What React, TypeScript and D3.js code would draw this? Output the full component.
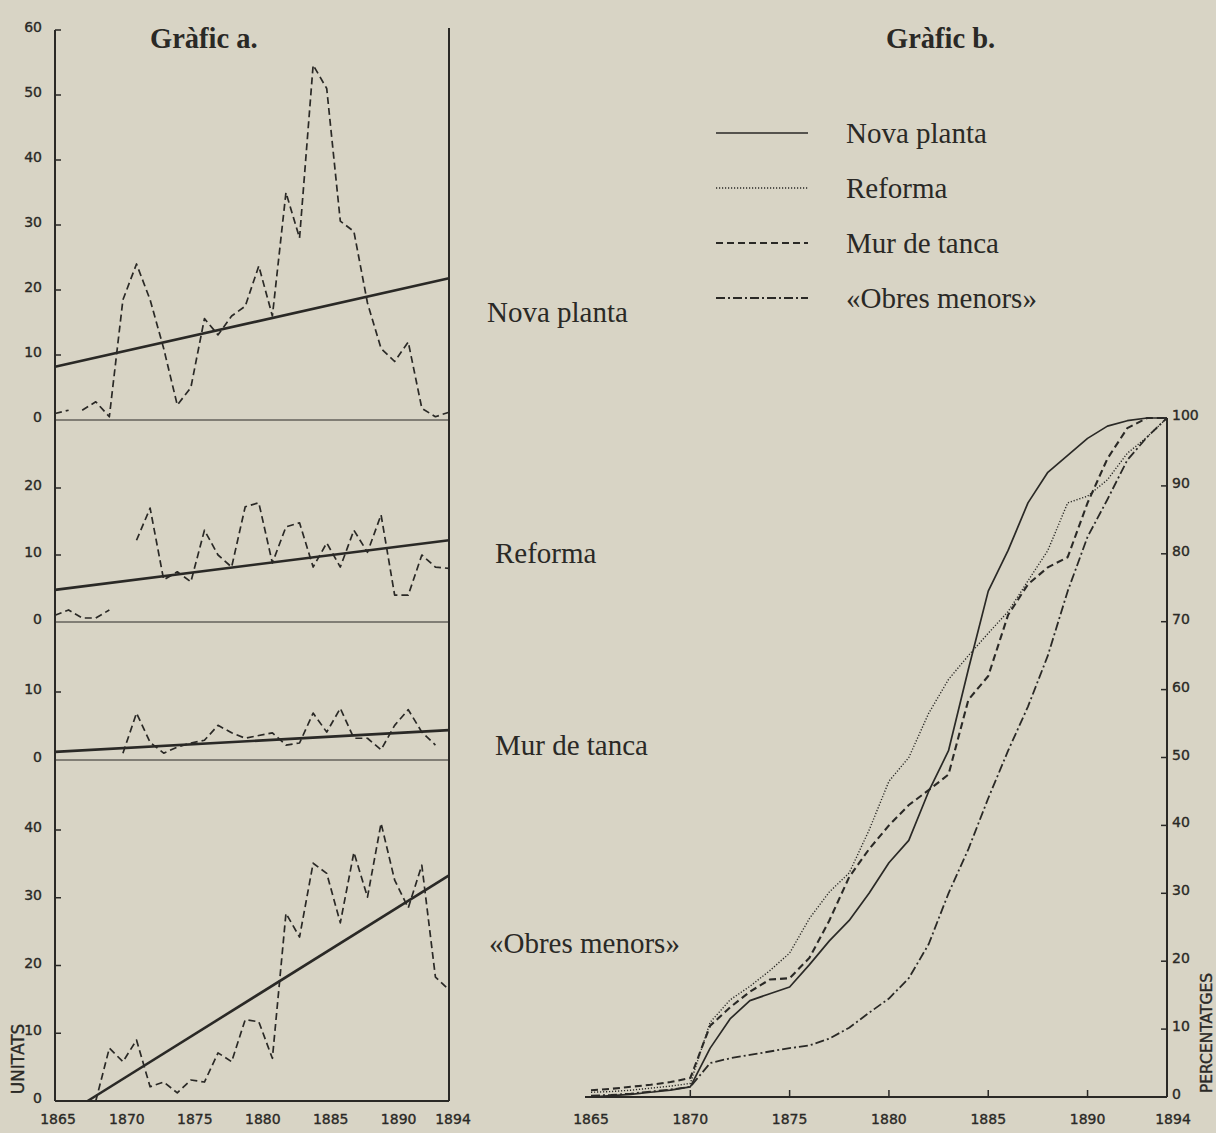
import React, { useEffect, useRef } from 'react';
import * as d3 from 'd3';

const W = 1216;
const H = 1133;

const years = [
  1865, 1866, 1867, 1868, 1869, 1870, 1871, 1872, 1873, 1874,
  1875, 1876, 1877, 1878, 1879, 1880, 1881, 1882, 1883, 1884,
  1885, 1886, 1887, 1888, 1889, 1890, 1891, 1892, 1893, 1894,
];

// Gràfic a: unitats per any (null = no dibuixat)
const novaPlanta = [
  1, 1.5, 1.5, 2.8, 0.5, 18.5, 24, 18.5, 11, 2.3,
  5, 15.6, 13.1, 16, 17.5, 23.7, 16, 35, 28, 54.6,
  51, 30.6, 29, 18, 11, 9, 12, 1.8, 0.5, 1.2,
];
const reforma = [
  1, 1.8, 0.6, 0.6, 1.8, null, 12.2, 17, 6.3, 7.5,
  6, 13.7, 10, 8.2, 17.2, 17.8, 8.8, 14.2, 14.8, 8.2,
  11.8, 8.2, 13.7, 10.4, 16, 4, 4, 10, 8.2, 8,
];
const murTanca = [
  null, null, null, null, null, 1, 6.9, 2.6, 1, 1.9,
  2.5, 2.9, 5.1, 4, 3.2, 3.6, 4, 2.2, 2.5, 6.9,
  4.1, 7.6, 3.2, 3.2, 1.5, 5.1, 7.4, 4.1, 2.2, null,
];
const obresMenors = [
  null, null, null, 0, 7.8, 5.8, 9, 2.1, 2.8, 1.2,
  3.1, 2.8, 7.1, 5.8, 12, 11.7, 6.3, 27.7, 24.2, 35.1,
  33.6, 26.3, 36.7, 30.1, 41, 32.6, 28.5, 34.8, 18.3, 16.4,
];

// years after which the dashed line is interrupted
const novaPlantaBreaks = [1866];

// trend lines: [year, value] at each end
const trendNovaPlanta = [[1865, 8.2], [1894, 21.8]];
const trendReforma = [[1865, 4.8], [1894, 12.2]];
const trendMurTanca = [[1865, 1.2], [1894, 4.4]];
const trendObresMenors = [[1867.4, 0], [1894, 33.3]];

const ticksNova = [0, 10, 20, 30, 40, 50, 60];
const ticksReforma = [0, 10, 20];
const ticksMur = [0, 10];
const ticksObres = [0, 10, 20, 30, 40];
const yearLabelsA = [1865, 1870, 1875, 1880, 1885, 1890, 1894];

// Gràfic b: percentatges acumulats
const pctNovaPlanta = [
  0, 0.2, 0.4, 0.7, 1, 1.5, 7.2, 11.5, 14.2, 15.2,
  16.2, 19.5, 23, 26, 30, 34.5, 37.8, 45, 51, 63,
  74.5, 80.5, 87.5, 92, 94.5, 97, 98.8, 99.6, 100, 100,
];
const pctReforma = [
  0.7, 0.8, 1, 1.3, 1.6, 2, 11, 14.3, 16.3, 18.6,
  21.2, 26.3, 30.2, 33, 39.3, 46.5, 50, 56.5, 61.5, 65,
  68.3, 71.5, 76, 80.5, 87.5, 88.5, 90.9, 94.8, 97.2, 100,
];
const pctMurTanca = [
  1, 1.2, 1.5, 1.8, 2.2, 2.8, 10.5, 13.2, 15.5, 17.3,
  17.5, 20.5, 26, 32.4, 36.5, 40, 43, 45.2, 47.5, 58.5,
  62, 71, 75.5, 78, 79.5, 87.5, 94, 98.5, 100, 100,
];
const pctObresMenors = [
  0.2, 0.3, 0.5, 0.8, 1.1, 1.5, 5, 5.7, 6.2, 6.7,
  7.2, 7.6, 8.6, 10.2, 12.4, 14.5, 17.5, 22.5, 30, 36.5,
  44, 51, 57.5, 65, 74.5, 82.5, 88, 93.8, 97.2, 100,
];

const pctTicks = [0, 10, 20, 30, 40, 50, 60, 70, 80, 90, 100];
const yearTicksB = [1870, 1875, 1880, 1885, 1890];
const yearLabelsB = [1865, 1870, 1875, 1880, 1885, 1890, 1894];

const legendLabels = ['Nova planta', 'Reforma', 'Mur de tanca', '«Obres menors»'];

const INK = '#2a2926';
const PAPER = '#d8d4c5';
const SERIF = '"Liberation Serif", "Times New Roman", serif';
const SANS = '"DejaVu Sans", sans-serif';

type Pt = { yr: number; v: number };

export default function App() {
  const svgRef = useRef<SVGSVGElement>(null);

  useEffect(() => {
    if (!svgRef.current) return;
    const svg = d3.select(svgRef.current);
    svg.selectAll('*').remove();

    svg.append('rect').attr('width', W).attr('height', H).attr('fill', PAPER);

    // hand-lettered axis text: a thin stroke makes it a bit heavier
    const sansText = (sel: d3.Selection<SVGTextElement, unknown, null, undefined>, size = 14) =>
      sel
        .attr('font-family', SANS).attr('font-size', size)
        .attr('fill', INK).attr('stroke', INK).attr('stroke-width', 0.35);

    // ---------- Gràfic a ----------
    const xa = d3.scaleLinear().domain([1865, 1894]).range([55, 449]);
    const ga = svg.append('g');

    const panels = [
      {
        label: 'Nova planta', values: novaPlanta, breaks: novaPlantaBreaks, trend: trendNovaPlanta,
        ticks: ticksNova, y: d3.scaleLinear().domain([0, 60]).range([420, 30]), lx: 487, ly: 322,
      },
      {
        label: 'Reforma', values: reforma, breaks: [], trend: trendReforma,
        ticks: ticksReforma, y: d3.scaleLinear().domain([0, 20]).range([622, 488]), lx: 495, ly: 563,
      },
      {
        label: 'Mur de tanca', values: murTanca, breaks: [], trend: trendMurTanca,
        ticks: ticksMur, y: d3.scaleLinear().domain([0, 10]).range([760, 692]), lx: 495, ly: 755,
      },
      {
        label: '«Obres menors»', values: obresMenors, breaks: [], trend: trendObresMenors,
        ticks: ticksObres, y: d3.scaleLinear().domain([0, 40]).range([1101, 830]), lx: 489, ly: 953,
      },
    ];

    panels.forEach((p, pi) => {
      // zero line (the last one is the x axis)
      ga.append('line')
        .attr('x1', xa(1865)).attr('x2', xa(1894))
        .attr('y1', p.y(0)).attr('y2', p.y(0))
        .attr('stroke', INK)
        .attr('stroke-width', pi === panels.length - 1 ? 2.2 : 1);

      // y ticks and labels
      p.ticks.forEach((t) => {
        if (t > 0) {
          ga.append('line')
            .attr('x1', xa(1865)).attr('x2', xa(1865) + 6)
            .attr('y1', p.y(t)).attr('y2', p.y(t))
            .attr('stroke', INK).attr('stroke-width', 1.5);
        }
        sansText(
          ga.append('text')
            .attr('x', 42).attr('y', p.y(t) + 2)
            .attr('text-anchor', 'end')
        ).text(t);
      });

      // dashed yearly series, split at gaps
      const segs: Pt[][] = [];
      let cur: Pt[] = [];
      years.forEach((yr, i) => {
        const v = p.values[i];
        if (v == null) {
          if (cur.length) segs.push(cur);
          cur = [];
          return;
        }
        cur.push({ yr, v });
        if (p.breaks.includes(yr)) {
          segs.push(cur);
          cur = [];
        }
      });
      if (cur.length) segs.push(cur);

      const line = d3.line<Pt>().x((d) => xa(d.yr)).y((d) => p.y(d.v));
      segs.filter((s) => s.length > 1).forEach((s) => {
        ga.append('path')
          .attr('d', line(s))
          .attr('fill', 'none')
          .attr('stroke', INK)
          .attr('stroke-width', 1.7)
          .attr('stroke-dasharray', '7,4')
          .attr('stroke-linejoin', 'round');
      });

      // trend line
      ga.append('line')
        .attr('x1', xa(p.trend[0][0])).attr('y1', p.y(p.trend[0][1]))
        .attr('x2', xa(p.trend[1][0])).attr('y2', p.y(p.trend[1][1]))
        .attr('stroke', INK).attr('stroke-width', 2.6);

      // series label
      ga.append('text')
        .attr('x', p.lx).attr('y', p.ly)
        .attr('font-family', SERIF).attr('font-size', 29)
        .attr('fill', INK)
        .text(p.label);
    });

    // frame of gràfic a
    ga.append('line')
      .attr('x1', xa(1865)).attr('x2', xa(1865))
      .attr('y1', panels[0].y(60)).attr('y2', panels[3].y(0))
      .attr('stroke', INK).attr('stroke-width', 2);
    ga.append('line')
      .attr('x1', xa(1894)).attr('x2', xa(1894))
      .attr('y1', 28).attr('y2', panels[3].y(0))
      .attr('stroke', INK).attr('stroke-width', 2);

    yearLabelsA.forEach((yr) => {
      sansText(
        ga.append('text')
          .attr('x', xa(yr) + (yr === 1865 ? 3 : 4)).attr('y', 1124)
          .attr('text-anchor', 'middle')
      ).text(yr);
    });

    sansText(
      ga.append('text')
        .attr('transform', 'translate(24,1059) rotate(-90)')
        .attr('text-anchor', 'middle'),
      17
    ).text('UNITATS');

    ga.append('text')
      .attr('x', 150).attr('y', 48)
      .attr('font-family', SERIF).attr('font-size', 28.5).attr('font-weight', 700)
      .attr('fill', INK)
      .text('Gràfic a.');

    // ---------- Gràfic b ----------
    const xb = d3.scaleLinear().domain([1865, 1894]).range([591, 1167]);
    const yb = d3.scaleLinear().domain([0, 100]).range([1097, 418]);
    const gb = svg.append('g');

    const styles = [
      { values: pctNovaPlanta, dash: null as string | null, width: 1.7 },
      { values: pctReforma, dash: '1.2,1.8', width: 1.4 },
      { values: pctMurTanca, dash: '7,4', width: 2.1 },
      { values: pctObresMenors, dash: '9,3,2,3', width: 1.8 },
    ];

    // axes
    gb.append('line')
      .attr('x1', 585).attr('x2', xb(1894))
      .attr('y1', yb(0)).attr('y2', yb(0))
      .attr('stroke', INK).attr('stroke-width', 2.2);
    gb.append('line')
      .attr('x1', xb(1894)).attr('x2', xb(1894))
      .attr('y1', yb(100)).attr('y2', yb(0))
      .attr('stroke', INK).attr('stroke-width', 2);

    yearTicksB.forEach((yr) => {
      gb.append('line')
        .attr('x1', xb(yr)).attr('x2', xb(yr))
        .attr('y1', yb(0)).attr('y2', yb(0) - 7)
        .attr('stroke', INK).attr('stroke-width', 1.5);
    });
    yearLabelsB.forEach((yr) => {
      sansText(
        gb.append('text')
          .attr('x', xb(yr) + (yr === 1894 ? 6 : 0)).attr('y', 1124)
          .attr('text-anchor', 'middle')
      ).text(yr);
    });

    pctTicks.forEach((t) => {
      if (t > 0) {
        gb.append('line')
          .attr('x1', xb(1894) - 6).attr('x2', xb(1894))
          .attr('y1', yb(t)).attr('y2', yb(t))
          .attr('stroke', INK).attr('stroke-width', 1.5);
      }
      sansText(
        gb.append('text')
          .attr('x', xb(1894) + 5).attr('y', yb(t) + 2)
      ).text(t);
    });

    sansText(
      gb.append('text')
        .attr('transform', 'translate(1212,1033) rotate(-90)')
        .attr('text-anchor', 'middle'),
      15.5
    ).text('PERCENTATGES');

    const lineB = d3.line<Pt>().x((d) => xb(d.yr)).y((d) => yb(d.v));
    styles.forEach((s) => {
      const pts = years.map((yr, i) => ({ yr, v: s.values[i] }));
      gb.append('path')
        .attr('d', lineB(pts))
        .attr('fill', 'none')
        .attr('stroke', INK)
        .attr('stroke-width', s.width)
        .attr('stroke-dasharray', s.dash)
        .attr('stroke-linejoin', 'round');
    });

    // legend
    const legend = gb.append('g').attr('transform', 'translate(716,133)');
    legendLabels.forEach((lab, i) => {
      const s = styles[i];
      const item = legend.append('g').attr('transform', `translate(0,${i * 55})`);
      item.append('line')
        .attr('x1', 0).attr('x2', 92)
        .attr('stroke', INK)
        .attr('stroke-width', s.width)
        .attr('stroke-dasharray', s.dash);
      item.append('text')
        .attr('x', 130).attr('y', 10)
        .attr('font-family', SERIF).attr('font-size', 29)
        .attr('fill', INK)
        .text(lab);
    });

    gb.append('text')
      .attr('x', 886).attr('y', 48)
      .attr('font-family', SERIF).attr('font-size', 28.5).attr('font-weight', 700)
      .attr('fill', INK)
      .text('Gràfic b.');
  }, []);

  return (
    <div style={{ position: 'absolute', left: 0, top: 0, width: W, height: H, background: PAPER }}>
      <svg ref={svgRef} width={W} height={H} style={{ display: 'block' }} />
    </div>
  );
}
